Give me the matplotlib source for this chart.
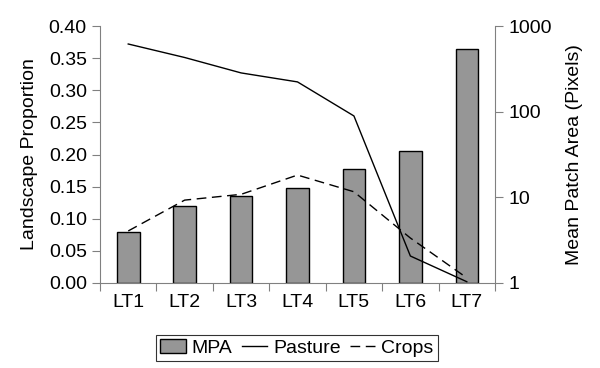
import matplotlib.pyplot as plt
from matplotlib.ticker import FixedLocator, NullLocator, FixedFormatter

plt.rcParams['font.family'] = ['Liberation Sans', 'DejaVu Sans']

# -----------------
# DATA
# -----------------
types = ['LT1', 'LT2', 'LT3', 'LT4', 'LT5', 'LT6', 'LT7']
mpa = [3.9, 7.9, 10.4, 12.9, 21.4, 35, 540]                       # mean patch area (pixels)
pasture = [0.372, 0.351, 0.327, 0.313, 0.26, 0.042, 0.002]         # landscape proportion
crops = [0.081, 0.129, 0.138, 0.168, 0.142, 0.070, 0.008]

x = list(range(len(types)))
grey = '#808080'
fs = 14

fig = plt.figure(figsize=(6, 3.68), dpi=100)
ax = fig.add_axes([0.1667, 0.231, 0.8250 - 0.1667, 0.9293 - 0.231])
ax2 = ax.twinx()

# bars on the log axis (right), starting from 1
bars = ax2.bar(x, [v - 1 for v in mpa], width=0.4, bottom=1, color='#969696',
               edgecolor='black', linewidth=1.0, label='MPA')
ax2.set_yscale('log')
ax2.set_ylim(1, 1000)
ax2.yaxis.set_major_locator(FixedLocator([1, 10, 100, 1000]))
ax2.yaxis.set_major_formatter(FixedFormatter(['1', '10', '100', '1000']))
ax2.yaxis.set_minor_locator(NullLocator())
ax2.set_ylabel('Mean Patch Area (Pixels)', fontsize=fs, labelpad=10)

# lines on the linear axis (left)
l1, = ax.plot(x, pasture, color='black', linewidth=1.0, label='Pasture')
l2, = ax.plot(x, crops, color='black', linewidth=1.0, linestyle=(0, (7, 4)), label='Crops')
ax.set_ylim(0, 0.40)
ax.set_yticks([i * 0.05 for i in range(9)])
ax.set_yticklabels(['%.2f' % (i * 0.05) for i in range(9)])
ax.set_ylabel('Landscape Proportion', fontsize=fs, labelpad=8)
ax.set_zorder(ax2.get_zorder() + 1)
ax.patch.set_visible(False)

# category axis: ticks on the boundaries, labels in the middle
ax.set_xlim(-0.5, len(types) - 0.5)
ax.set_xticks([i - 0.5 for i in range(len(types) + 1)])
ax.set_xticklabels([])
ax.set_xticks(x, minor=True)
ax.set_xticklabels(types, minor=True)
ax.tick_params(axis='x', which='minor', length=0, pad=8, labelsize=fs)
ax.tick_params(axis='x', which='major', length=6, color=grey, direction='out')
ax.tick_params(axis='y', length=6, color=grey, labelsize=fs)
ax2.tick_params(axis='y', length=6, color=grey, labelsize=fs)

for a in (ax, ax2):
    a.spines['top'].set_visible(False)
    for s in ('left', 'right', 'bottom'):
        a.spines[s].set_color(grey)
ax.spines['right'].set_visible(False)
ax2.spines['left'].set_visible(False)
ax2.spines['bottom'].set_visible(False)

leg = fig.legend([bars, l1, l2], ['MPA', 'Pasture', 'Crops'], loc='center',
                 bbox_to_anchor=(0.495, 0.054), ncol=3, fontsize=fs, frameon=True,
                 fancybox=False, edgecolor='black', handlelength=1.3,
                 handletextpad=0.3, columnspacing=0.5, borderpad=0.2,
                 borderaxespad=0.2)
leg.get_frame().set_linewidth(0.8)

fig.savefig('out.png', dpi=100)
